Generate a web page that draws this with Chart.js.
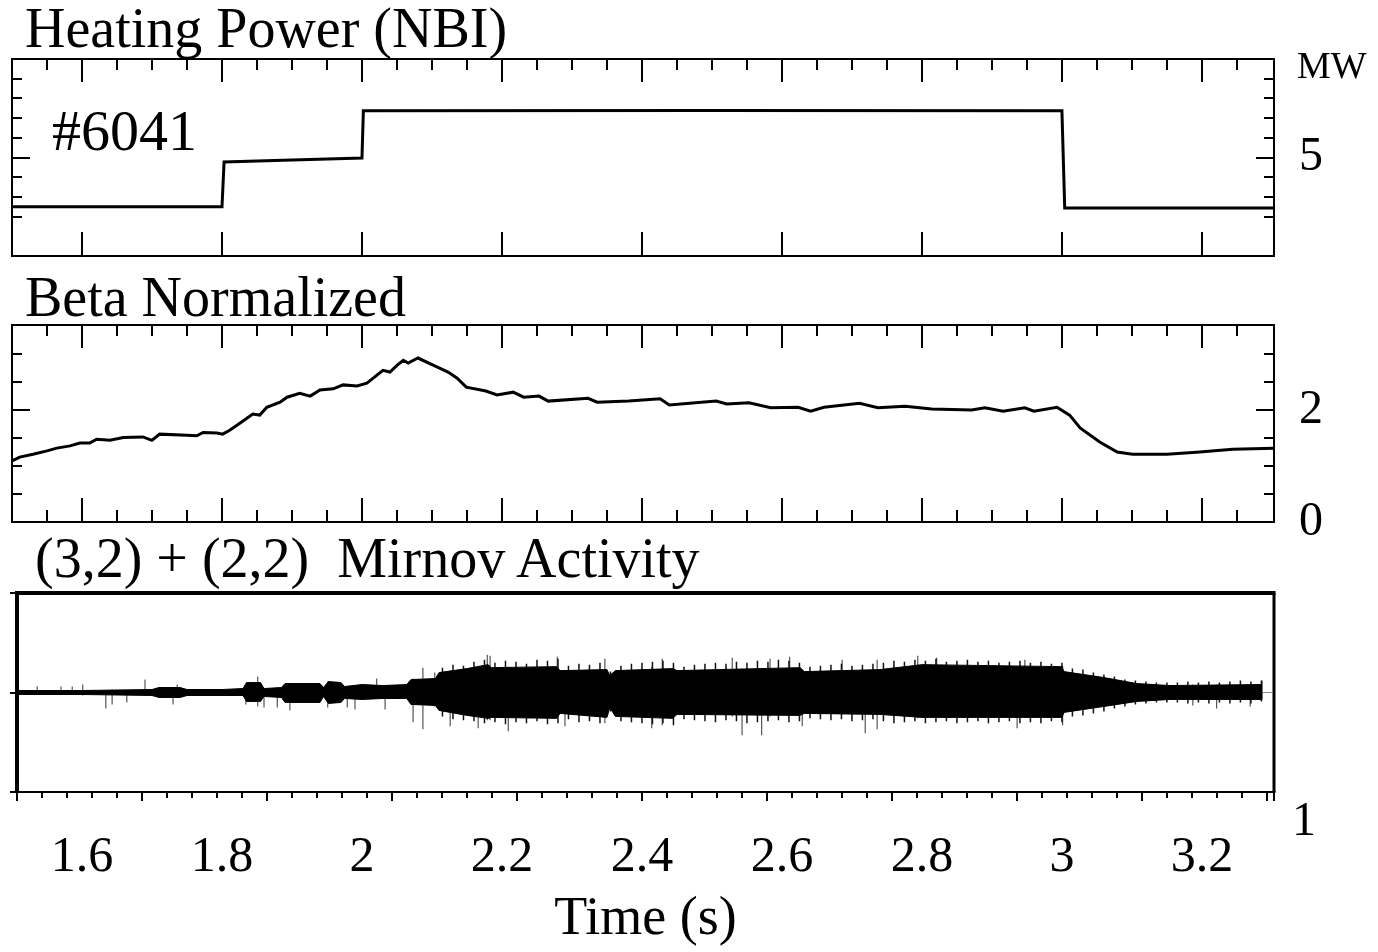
<!DOCTYPE html>
<html>
<head>
<meta charset="utf-8">
<script src="https://cdn.jsdelivr.net/npm/chart.js@4.4.0/dist/chart.umd.min.js"></script>
<style>
  body { margin: 0; background: #fff; }
  #page { position: relative; width: 1378px; height: 952px; overflow: hidden;
          font-family: "Liberation Serif", "Times New Roman", serif; color: #000; }
  canvas { position: absolute; left: 0; }
  .lbl { position: absolute; line-height: 1; white-space: pre; }
</style>
</head>
<body>
<div id="page">
  <canvas id="power" width="1378" height="320" style="top:0"></canvas>
  <canvas id="beta" width="1378" height="320" style="top:262px"></canvas>
  <canvas id="mirnov" width="1378" height="422" style="top:530px"></canvas>

  <div class="lbl" style="left:25px;top:0;font-size:56px">Heating Power (NBI)</div>
  <div class="lbl" style="left:52px;top:102px;font-size:58px">#6041</div>
  <div class="lbl" style="left:1297px;top:46px;font-size:38px">MW</div>
  <div class="lbl" style="left:25px;top:269px;font-size:56px">Beta Normalized</div>
  <div class="lbl" style="left:35px;top:530px;font-size:56px">(3,2) + (2,2)  Mirnov Activity</div>
  <div class="lbl" style="left:1292px;top:795px;font-size:48px">1</div>
</div>

<script>
// time axis (s)
const xMin = 1.5, xMax = 3.303;
const timeTicks = [1.6, 1.8, 2.0, 2.2, 2.4, 2.6, 2.8, 3.0, 3.2];
const timeMinor = [1.55, 1.65, 1.7, 1.75, 1.85, 1.9, 1.95, 2.05, 2.1, 2.15, 2.25, 2.3, 2.35,
  2.45, 2.5, 2.55, 2.65, 2.7, 2.75, 2.85, 2.9, 2.95, 3.05, 3.1, 3.15, 3.25];

// NBI heating power (MW)
const powerTime = [1.5, 1.8, 1.803, 1.9, 2.0, 2.002, 2.5, 3.0, 3.004, 3.303];
const powerMW   = [2.5, 2.5, 4.77, 4.87, 4.97, 7.37, 7.38, 7.37, 2.44, 2.44];

// normalized beta
const betaTime = [1.5, 1.511, 1.53, 1.55, 1.564, 1.583, 1.597, 1.611, 1.621, 1.64, 1.659, 1.687,
  1.70, 1.711, 1.75, 1.764, 1.773, 1.793, 1.801, 1.811, 1.826, 1.844, 1.854, 1.864, 1.883,
  1.893, 1.911, 1.926, 1.94, 1.959, 1.973, 1.993, 2.007, 2.03, 2.04, 2.05, 2.059, 2.066,
  2.08, 2.107, 2.123, 2.136, 2.149, 2.177, 2.193, 2.216, 2.231, 2.253, 2.266, 2.323, 2.336,
  2.381, 2.426, 2.439, 2.506, 2.521, 2.553, 2.584, 2.623, 2.641, 2.66, 2.711, 2.737, 2.776,
  2.814, 2.871, 2.89, 2.916, 2.947, 2.96, 2.993, 3.011, 3.026, 3.054, 3.079, 3.101, 3.15,
  3.197, 3.244, 3.303];
const betaN = [1.09, 1.16, 1.21, 1.27, 1.32, 1.36, 1.41, 1.41, 1.48, 1.46, 1.51, 1.52,
  1.46, 1.57, 1.55, 1.54, 1.6, 1.59, 1.57, 1.64, 1.77, 1.93, 1.91, 2.05, 2.14,
  2.23, 2.30, 2.25, 2.36, 2.38, 2.45, 2.43, 2.48, 2.71, 2.68, 2.80, 2.89, 2.84,
  2.93, 2.77, 2.68, 2.57, 2.41, 2.34, 2.27, 2.32, 2.23, 2.25, 2.16, 2.21, 2.14,
  2.16, 2.20, 2.09, 2.16, 2.11, 2.13, 2.04, 2.05, 1.98, 2.05, 2.12, 2.04, 2.07,
  2.02, 2.0, 2.04, 1.98, 2.04, 1.98, 2.05, 1.91, 1.68, 1.43, 1.25, 1.21, 1.21,
  1.25, 1.30, 1.32];

// Mirnov signal envelope (arb. units, panel spans -100..100)
const mirnovTime = [1.503, 1.6, 1.70, 1.71, 1.74, 1.75, 1.80, 1.83, 1.835, 1.855, 1.86, 1.885,
  1.89, 1.94, 1.945, 1.952, 1.97, 1.975, 2.0, 2.03, 2.064, 2.07, 2.105, 2.11, 2.15, 2.18,
  2.185, 2.278, 2.283, 2.35, 2.354, 2.362, 2.444, 2.45, 2.626, 2.632, 2.74, 2.8, 2.9, 3.0,
  3.003, 3.06, 3.107, 3.154, 3.286];
const mirnovUpper = [2, 2, 3, 5, 5, 3, 3, 4, 10, 10, 4, 5,
  9, 9, 5, 11, 10, 6, 8, 7, 8, 13, 14, 20, 24, 28,
  25, 26, 22, 23, 17, 22, 24, 22, 25, 21, 23, 28, 27, 26,
  21, 15, 9, 7, 8];
const mirnovLower = [-2, -2, -3, -5, -5, -3, -3, -3, -9, -9, -4, -5,
  -10, -10, -4, -11, -10, -6, -7, -6, -6, -12, -13, -18, -23, -26,
  -25, -26, -21, -25, -15, -24, -26, -22, -23, -21, -22, -25, -25, -25,
  -20, -14, -9, -7, -7];

// fine oscillation peaks along the dense part of the trace
const burstTime = [2.115, 2.13, 2.145, 2.16, 2.175, 2.19, 2.205, 2.22, 2.235, 2.25, 2.265, 2.28,
  2.295, 2.31, 2.325, 2.34, 2.355, 2.37, 2.385, 2.4, 2.415, 2.43, 2.445, 2.46, 2.475, 2.49,
  2.505, 2.52, 2.535, 2.55, 2.565, 2.58, 2.595, 2.61, 2.625, 2.64, 2.655, 2.67, 2.685, 2.7,
  2.715, 2.73, 2.745, 2.76, 2.775, 2.79, 2.805, 2.82, 2.835, 2.85, 2.865, 2.88, 2.895, 2.91,
  2.925, 2.94, 2.955, 2.97, 2.985, 3.0, 3.015, 3.03, 3.045, 3.06, 3.075, 3.09, 3.105, 3.12,
  3.135, 3.15, 3.165, 3.18, 3.195, 3.21, 3.225, 3.24, 3.255, 3.27, 3.285];
const burstHigh = [25, 28, 27, 31, 33, 30, 32, 31, 29, 33, 32, 34,
  27, 29, 28, 30, 21, 27, 29, 30, 31, 32, 30, 26, 28, 29,
  30, 29, 31, 30, 32, 31, 33, 32, 30, 26, 27, 28, 29, 27,
  28, 29, 30, 32, 31, 33, 32, 34, 31, 32, 33, 31, 32, 30,
  31, 32, 30, 31, 29, 30, 24, 23, 20, 18, 16, 13, 12, 11,
  10, 10, 10, 11, 10, 11, 10, 11, 12, 11, 12];
const burstLow = [-24, -27, -28, -29, -31, -30, -32, -30, -31, -29, -32, -31,
  -27, -30, -29, -31, -19, -29, -30, -31, -32, -31, -33, -27, -28, -29,
  -30, -28, -29, -31, -30, -29, -28, -30, -29, -26, -27, -28, -27, -29,
  -28, -27, -29, -31, -30, -29, -31, -30, -29, -31, -30, -29, -31, -30,
  -29, -31, -30, -31, -29, -30, -24, -23, -21, -19, -16, -14, -12, -11,
  -10, -10, -10, -11, -10, -11, -10, -11, -10, -11, -9];

// isolated spikes on the Mirnov trace
const spikeTime = [1.536, 1.570, 1.586, 1.601, 1.634, 1.643, 1.664, 1.690, 1.730, 1.736, 1.834,
  1.851, 1.860, 1.879, 1.897, 1.951, 1.979, 1.990, 2.021, 2.033, 2.073, 2.087, 2.104, 2.126,
  2.166, 2.179, 2.183, 2.209, 2.279, 2.290, 2.347, 2.414, 2.429, 2.529, 2.543, 2.571, 2.583,
  2.611, 2.629, 2.686, 2.719, 2.736, 2.794, 2.821, 2.936, 2.947, 3.001, 3.187, 3.221, 3.269, 3.286];
const spikeLow = [-2, -2, -2, -3, -16, -12, -10, -3, -12, -5, -12,
  -14, -15, -15, -18, -15, -15, -17, -5, -17, -30, -37, -14, -34,
  -36, -28, -28, -39, -26, -34, -31, -36, -33, -24, -43, -43, -24,
  -23, -34, -22, -41, -37, -26, -26, -36, -25, -33, -13, -16, -14, -7];
const spikeHigh = [6, 6, 6, 8, 2, 3, 2, 13, 5, 8, 5,
  16, 4, 5, 9, 11, 6, 6, 14, 6, 14, 25, 20, 22,
  26, 38, 37, 26, 36, 22, 34, 26, 34, 35, 24, 24, 34,
  36, 22, 33, 22, 33, 37, 35, 26, 33, 27, 8, 8, 8, 12];

// tick positions of the Mirnov panel's lower axis (every 25 px of the original)
const mirnovAxisTicks = [];
for (let i = 0; i <= 50; i++) mirnovAxisTicks.push(1.5071 + i * 0.0357143);

Chart.defaults.font.family = "'Liberation Serif', 'Times New Roman', serif";
Chart.defaults.color = '#000';

const pts = (xs, ys) => xs.map((t, i) => ({ x: t, y: ys[i] }));

// vertical strokes from low to high, one per sample, split by gaps
function strokes(ts, lo, hi) {
  const out = [];
  ts.forEach((t, i) => out.push({ x: t, y: lo[i] }, { x: t, y: hi[i] }, { x: t, y: null }));
  return out;
}

const fmt = v => String(Number(v.toFixed(2)));

// frame + inward/outward tick marks drawn from the chart's own scales
const framePlugin = {
  id: 'frame',
  afterDatasetsDraw(chart, args, opts) {
    const { ctx, chartArea: a, scales } = chart;
    const xs = scales.x, ys = scales.y;
    ctx.save();
    ctx.strokeStyle = '#000';
    ctx.lineCap = 'butt';
    const line = (x1, y1, x2, y2, w) => {
      ctx.lineWidth = w;
      ctx.beginPath();
      ctx.moveTo(x1, y1);
      ctx.lineTo(x2, y2);
      ctx.stroke();
    };
    (opts.marks || []).forEach(m => {
      m.values.forEach(v => {
        if (m.side === 'top' || m.side === 'bottom') {
          const px = Math.round(xs.getPixelForValue(v));
          const y0 = m.side === 'top' ? a.top : a.bottom;
          const dir = m.side === 'top' ? 1 : -1;
          line(px, y0, px, y0 + dir * m.len, 2);
        } else {
          const py = Math.round(ys.getPixelForValue(v));
          const x0 = m.side === 'left' ? a.left : a.right;
          const dir = m.side === 'left' ? 1 : -1;
          line(x0, py, x0 + dir * m.len, py, 2);
        }
      });
    });
    const b = opts.border || { top: 2, right: 2, bottom: 2, left: 2 };
    line(a.left - b.left / 2, a.top, a.right + b.right / 2, a.top, b.top);
    line(a.left - b.left / 2, a.bottom, a.right + b.right / 2, a.bottom, b.bottom);
    line(a.left, a.top, a.left, a.bottom, b.left);
    line(a.right, a.top, a.right, a.bottom, b.right);
    ctx.restore();
  }
};

function hiddenX() {
  return { type: 'linear', min: xMin, max: xMax, display: false };
}

function rightY(min, max, labels) {
  return {
    type: 'linear', position: 'right', min, max,
    grid: { display: false, drawTicks: false },
    border: { display: false },
    ticks: { font: { size: 48 }, padding: 25, callback: fmt },
    afterBuildTicks: s => { s.ticks = labels.map(v => ({ value: v })); },
    afterFit: s => { s.width = 104; }
  };
}

const baseOpts = {
  responsive: false,
  animation: false,
  events: [],
  plugins: { legend: { display: false }, tooltip: { enabled: false } }
};

new Chart(document.getElementById('power'), {
  type: 'line',
  data: {
    datasets: [{
      data: pts(powerTime, powerMW),
      borderColor: '#000', borderWidth: 3, pointRadius: 0, tension: 0
    }]
  },
  options: {
    ...baseOpts,
    layout: { padding: { left: 12, right: 0, top: 59, bottom: 64 } },
    scales: { x: hiddenX(), y: rightY(0, 10, [5]) },
    plugins: {
      ...baseOpts.plugins,
      frame: {
        marks: [
          { side: 'top', values: timeMinor, len: 11 },
          { side: 'top', values: timeTicks, len: 23 },
          { side: 'bottom', values: timeTicks, len: 24 },
          { side: 'left', values: [2, 3, 4, 6, 7, 8, 9], len: 10 },
          { side: 'left', values: [5], len: 18 },
          { side: 'right', values: [2, 3, 4, 6, 7, 8, 9], len: 10 },
          { side: 'right', values: [5], len: 18 }
        ]
      }
    }
  },
  plugins: [framePlugin]
});

new Chart(document.getElementById('beta'), {
  type: 'line',
  data: {
    datasets: [{
      data: pts(betaTime, betaN),
      borderColor: '#000', borderWidth: 3, pointRadius: 0, tension: 0
    }]
  },
  options: {
    ...baseOpts,
    layout: { padding: { left: 12, right: 0, top: 63, bottom: 60 } },
    scales: { x: hiddenX(), y: rightY(0, 3.52, [0, 2]) },
    plugins: {
      ...baseOpts.plugins,
      frame: {
        marks: [
          { side: 'top', values: timeMinor, len: 11 },
          { side: 'top', values: timeTicks, len: 23 },
          { side: 'bottom', values: timeMinor, len: 12 },
          { side: 'bottom', values: timeTicks, len: 24 },
          { side: 'left', values: [0.5, 1, 1.5, 2.5, 3], len: 10 },
          { side: 'left', values: [2], len: 18 },
          { side: 'right', values: [0.5, 1, 1.5, 2.5, 3], len: 10 },
          { side: 'right', values: [2], len: 18 }
        ]
      }
    }
  },
  plugins: [framePlugin]
});

new Chart(document.getElementById('mirnov'), {
  type: 'line',
  data: {
    datasets: [
      {
        data: pts(mirnovTime, mirnovUpper),
        borderColor: '#000', borderWidth: 1, pointRadius: 0, tension: 0,
        fill: '+1', backgroundColor: '#000'
      },
      {
        data: pts(mirnovTime, mirnovLower),
        borderColor: '#000', borderWidth: 1, pointRadius: 0, tension: 0, fill: false
      },
      {
        data: strokes(burstTime, burstLow, burstHigh),
        borderColor: '#111', borderWidth: 1.5, pointRadius: 0, spanGaps: false
      },
      {
        data: strokes(spikeTime, spikeLow, spikeHigh),
        borderColor: '#555', borderWidth: 1.2, pointRadius: 0, spanGaps: false
      },
      {
        data: pts([1.503, 3.3], [0, 0]),
        borderColor: '#888', borderWidth: 1, pointRadius: 0
      }
    ]
  },
  options: {
    ...baseOpts,
    layout: { padding: { left: 17, right: 104, top: 63, bottom: 0 } },
    scales: {
      x: {
        type: 'linear', min: 1.5071, max: xMax,
        grid: { display: false, drawTicks: false },
        border: { display: false },
        ticks: { font: { size: 50 }, padding: 36, maxRotation: 0, autoSkip: false, callback: fmt },
        afterBuildTicks: s => { s.ticks = timeTicks.map(v => ({ value: v })); },
        afterFit: s => { s.height = 160; },
        title: { display: true, text: 'Time (s)', font: { size: 54 }, padding: { top: 0, bottom: 0 } }
      },
      y: { type: 'linear', min: -100, max: 100, display: false }
    },
    plugins: {
      ...baseOpts.plugins,
      frame: {
        border: { top: 4, right: 3, bottom: 2, left: 4 },
        marks: [
          { side: 'bottom', values: mirnovAxisTicks.filter((t, i) => i % 5 !== 0), len: -6 },
          { side: 'bottom', values: mirnovAxisTicks.filter((t, i) => i % 5 === 0), len: -9 },
          { side: 'bottom', values: [xMax], len: -9 },
          { side: 'left', values: [100, 0, -100], len: -7 }
        ]
      }
    }
  },
  plugins: [framePlugin]
});
</script>
</body>
</html>
